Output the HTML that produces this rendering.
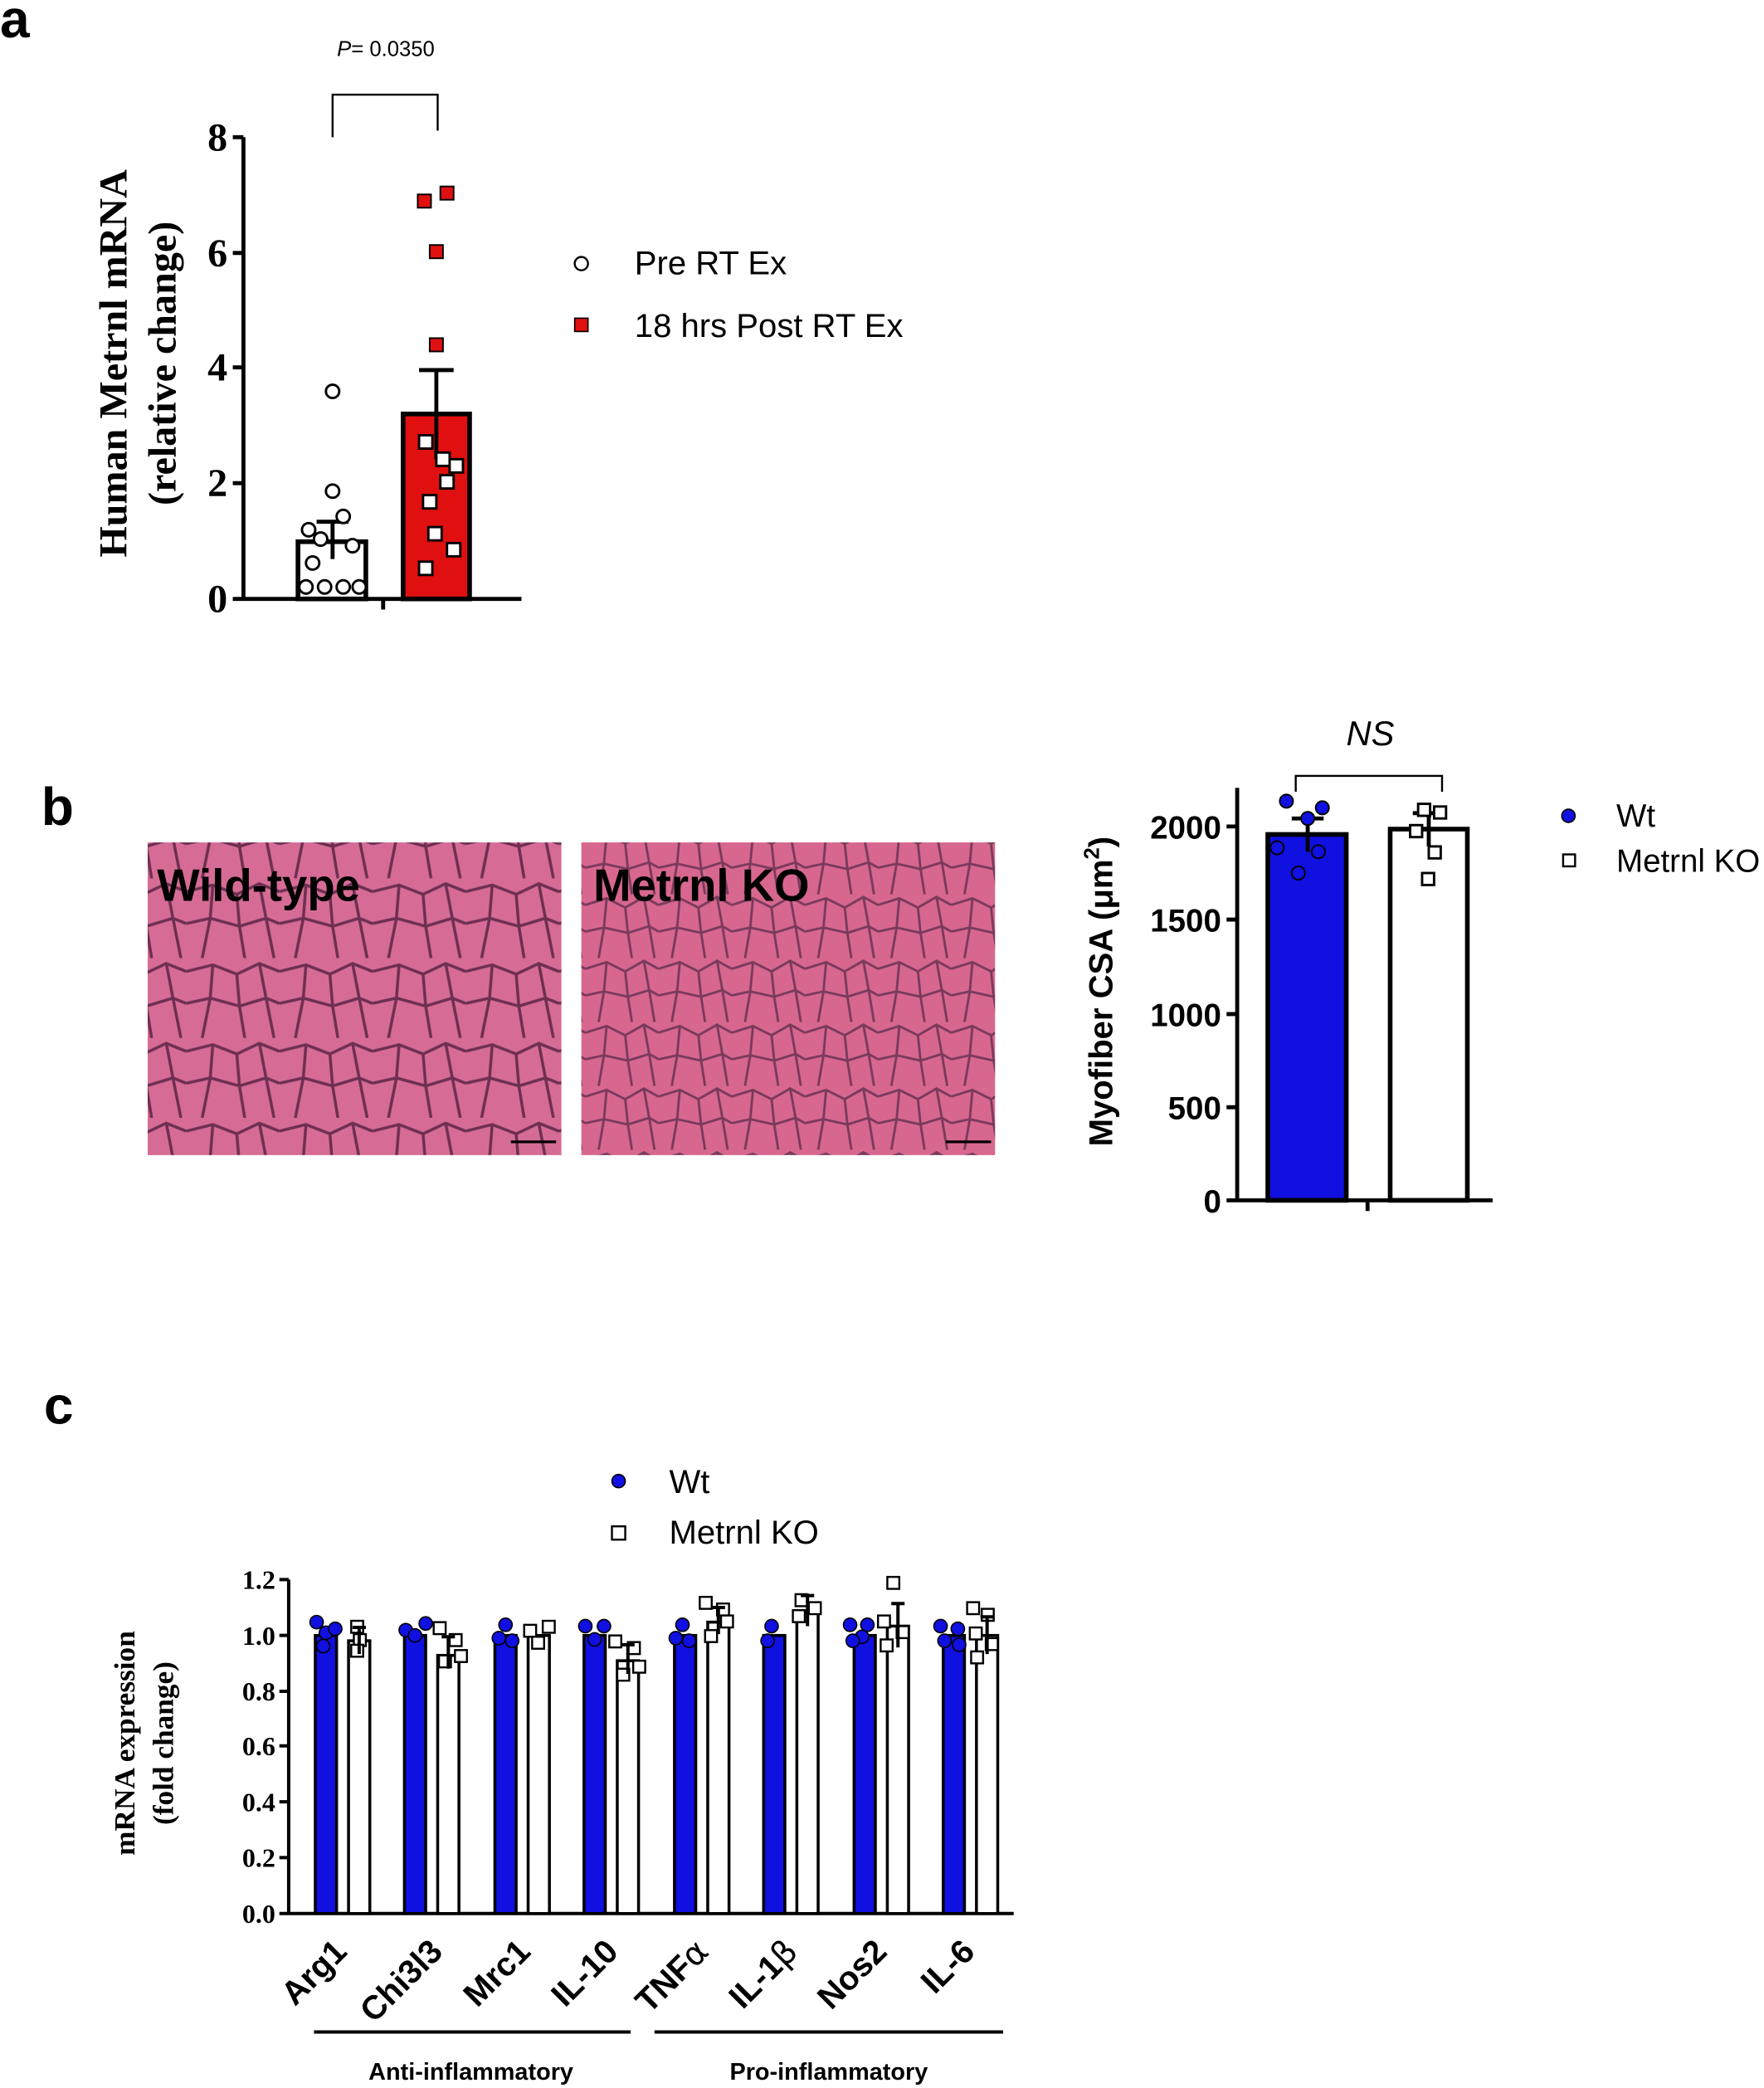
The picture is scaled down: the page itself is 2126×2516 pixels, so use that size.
<!DOCTYPE html>
<html><head><meta charset="utf-8"><style>
html,body{margin:0;padding:0;background:#fff}
svg{display:block}
.s{font-family:"Liberation Sans",sans-serif}
.r{font-family:"Liberation Serif",serif;font-weight:bold}
</style></head><body>
<svg width="2126" height="2516" viewBox="0 0 1326 1569" xmlns="http://www.w3.org/2000/svg">
<defs>
<pattern id="cells" width="70" height="60" patternUnits="userSpaceOnUse">
<rect width="70" height="60" fill="#d66c95"/>
<path d="M0 10 L20 5 L38 12 L55 4 L70 10 M20 5 L18 30 L0 34 M18 30 L40 36 L38 12 M40 36 L60 30 L55 4 M60 30 L70 34 M18 30 L12 60 M40 36 L44 60 M60 30 L66 60" stroke="#6e2f52" stroke-width="2.2" fill="none"/>
</pattern>
<pattern id="cells2" width="55" height="48" patternUnits="userSpaceOnUse">
<rect width="55" height="48" fill="#d8678f"/>
<path d="M0 8 L16 3 L30 10 L44 2 L55 8 M16 3 L14 25 L0 28 M14 25 L32 29 L30 10 M32 29 L48 24 L44 2 M48 24 L55 28 M14 25 L10 48 M32 29 L35 48 M48 24 L52 48" stroke="#7a3a5c" stroke-width="1.8" fill="none"/>
</pattern>
</defs>

<!-- Panel a -->
<text x="0" y="28" class="s" font-size="40" font-weight="bold">a</text>
<text x="290" y="42" class="s" font-size="16" text-anchor="middle"><tspan font-style="italic">P</tspan>= 0.0350</text>
<path d="M250 103 V71 H329 V98" stroke="#000" stroke-width="1.5" fill="none"/>
<g stroke="#000" stroke-width="3" fill="none">
<path d="M183 103 V450 M175 450 H392 M175 103 H183 M175 190 H183 M175 276 H183 M175 363 H183 M288 450 V458"/>
</g>
<g class="r" font-size="30" text-anchor="end">
<text x="171" y="460">0</text><text x="171" y="373">2</text><text x="171" y="286">4</text><text x="171" y="200">6</text><text x="171" y="113">8</text>
</g>
<text class="r" font-size="30" text-anchor="middle" transform="translate(95,273) rotate(-90)">Human Metrnl mRNA</text>
<text class="r" font-size="30" text-anchor="middle" transform="translate(132,273) rotate(-90)">(relative change)</text>
<rect x="224" y="407" width="51" height="43" fill="#fff" stroke="#000" stroke-width="3.5"/>
<rect x="303" y="311" width="50" height="139" fill="#e01010" stroke="#000" stroke-width="3.5"/>
<path d="M250 392 V420 M238 392 H262 M328 278 V345 M315 278 H341" stroke="#000" stroke-width="3"/>
<g fill="#fff" stroke="#000" stroke-width="1.8">
<circle cx="250" cy="294" r="5"/><circle cx="250" cy="369" r="5"/><circle cx="258" cy="388" r="5"/><circle cx="232" cy="398" r="5"/><circle cx="241" cy="405" r="5"/><circle cx="265" cy="410" r="5"/><circle cx="235" cy="423" r="5"/><circle cx="230" cy="441" r="5"/><circle cx="244" cy="441" r="5"/><circle cx="258" cy="441" r="5"/><circle cx="270" cy="441" r="5"/>
</g>
<g fill="#e01010" stroke="#000" stroke-width="1.2">
<rect x="314" y="146" width="10" height="10"/><rect x="331" y="140" width="10" height="10"/><rect x="323" y="184" width="10" height="10"/><rect x="323" y="254" width="10" height="10"/>
</g>
<g fill="#fff" stroke="#000" stroke-width="1.8">
<rect x="315" y="327" width="10" height="10"/><rect x="328" y="340" width="10" height="10"/><rect x="338" y="345" width="10" height="10"/><rect x="331" y="357" width="10" height="10"/><rect x="318" y="372" width="10" height="10"/><rect x="322" y="396" width="10" height="10"/><rect x="336" y="408" width="10" height="10"/><rect x="315" y="422" width="10" height="10"/>
</g>
<circle cx="437" cy="198" r="5" fill="#fff" stroke="#000" stroke-width="1.5"/>
<text x="477" y="206" class="s" font-size="25">Pre RT Ex</text>
<rect x="432" y="239" width="10" height="10" fill="#e01010" stroke="#000"/>
<text x="477" y="253" class="s" font-size="25">18 hrs Post RT Ex</text>

<!-- Panel b -->
<text x="31" y="620" class="s" font-size="40" font-weight="bold">b</text>
<rect x="111" y="633" width="311" height="235" fill="url(#cells)"/>
<rect x="437" y="633" width="311" height="235" fill="url(#cells2)"/>
<text x="118" y="677" class="s" font-size="34" font-weight="bold">Wild-type</text>
<text x="446" y="677" class="s" font-size="34" font-weight="bold">Metrnl KO</text>
<path d="M384 858 H418 M711 858 H745" stroke="#000" stroke-width="2"/>

<text x="1030" y="560" class="s" font-size="26" font-style="italic" text-anchor="middle">NS</text>
<path d="M974 595 V583 H1084 V595" stroke="#000" stroke-width="1.5" fill="none"/>
<g stroke="#000" stroke-width="3" fill="none">
<path d="M930 592 V902 M922 902 H1122 M922 621 H930 M922 691 H930 M922 762 H930 M922 832 H930 M1028 902 V910"/>
</g>
<g class="s" font-size="24" font-weight="bold" text-anchor="end">
<text x="918" y="911">0</text><text x="918" y="841">500</text><text x="918" y="771">1000</text><text x="918" y="700">1500</text><text x="918" y="630">2000</text>
</g>
<text class="s" font-size="25" font-weight="bold" text-anchor="middle" transform="translate(836,745) rotate(-90)">Myofiber CSA (μm<tspan dy="-10" font-size="16">2</tspan><tspan dy="10">)</tspan></text>
<rect x="953" y="627" width="59" height="275" fill="#1010e0" stroke="#000" stroke-width="3.5"/>
<rect x="1045" y="623" width="58" height="279" fill="#fff" stroke="#000" stroke-width="3.5"/>
<path d="M983 615 V640 M971 615 H995 M1074 611 V636 M1062 611 H1086" stroke="#000" stroke-width="3"/>
<g fill="#1010e0" stroke="#000" stroke-width="1.2">
<circle cx="967" cy="602" r="5"/><circle cx="994" cy="607" r="5"/><circle cx="983" cy="615" r="5"/><circle cx="960" cy="637" r="5"/><circle cx="991" cy="640" r="5"/><circle cx="976" cy="656" r="5"/>
</g>
<g fill="#fff" stroke="#000" stroke-width="1.8">
<rect x="1066" y="604" width="9" height="9"/><rect x="1078" y="606" width="9" height="9"/><rect x="1060" y="620" width="9" height="9"/><rect x="1074" y="636" width="9" height="9"/><rect x="1069" y="656" width="9" height="9"/>
</g>
<circle cx="1179" cy="613" r="5" fill="#1010e0" stroke="#000"/>
<text x="1215" y="621" class="s" font-size="24">Wt</text>
<rect x="1175" y="642" width="9" height="9" fill="#fff" stroke="#000" stroke-width="1.5"/>
<text x="1215" y="655" class="s" font-size="24">Metrnl KO</text>

<!-- Panel c -->
<text x="33" y="1070" class="s" font-size="40" font-weight="bold">c</text>
<circle cx="465" cy="1113" r="5" fill="#1010e0" stroke="#000"/>
<text x="503" y="1122" class="s" font-size="25">Wt</text>
<rect x="460" y="1147" width="10" height="10" fill="#fff" stroke="#000" stroke-width="1.5"/>
<text x="503" y="1160" class="s" font-size="25">Metrnl KO</text>

<g stroke="#000" stroke-width="2.5" fill="none">
<path d="M217 1187 V1438 M210 1438 H762"/>
<path d="M210 1187 H217 M210 1229 H217 M210 1271 H217 M210 1312 H217 M210 1354 H217 M210 1396 H217"/>
</g>
<g class="r" font-size="20" text-anchor="end">
<text x="207" y="1445">0.0</text><text x="207" y="1403">0.2</text><text x="207" y="1361">0.4</text><text x="207" y="1319">0.6</text><text x="207" y="1278">0.8</text><text x="207" y="1236">1.0</text><text x="207" y="1194">1.2</text>
</g>
<text class="r" font-size="22" text-anchor="middle" transform="translate(101,1310) rotate(-90)">mRNA expression</text>
<text class="r" font-size="22" text-anchor="middle" transform="translate(130,1310) rotate(-90)">(fold change)</text>

<g stroke="#000" stroke-width="2.2">
<rect x="237" y="1229" width="16" height="209" fill="#1010e0"/><rect x="262" y="1233" width="16" height="205" fill="#fff"/>
<rect x="304" y="1229" width="16" height="209" fill="#1010e0"/><rect x="329" y="1244" width="16" height="194" fill="#fff"/>
<rect x="372" y="1229" width="16" height="209" fill="#1010e0"/><rect x="397" y="1229" width="16" height="209" fill="#fff"/>
<rect x="439" y="1229" width="16" height="209" fill="#1010e0"/><rect x="464" y="1248" width="16" height="190" fill="#fff"/>
<rect x="507" y="1229" width="16" height="209" fill="#1010e0"/><rect x="532" y="1219" width="16" height="219" fill="#fff"/>
<rect x="574" y="1229" width="16" height="209" fill="#1010e0"/><rect x="599" y="1212" width="16" height="226" fill="#fff"/>
<rect x="642" y="1229" width="16" height="209" fill="#1010e0"/><rect x="667" y="1222" width="16" height="216" fill="#fff"/>
<rect x="709" y="1229" width="16" height="209" fill="#1010e0"/><rect x="734" y="1229" width="16" height="209" fill="#fff"/>
</g>
<g fill="#1010e0" stroke="#000" stroke-width="1">
<circle cx="238" cy="1219" r="5"/><circle cx="245" cy="1227" r="5"/><circle cx="252" cy="1224" r="5"/><circle cx="243" cy="1237" r="5"/>
<circle cx="305" cy="1225" r="5"/><circle cx="320" cy="1220" r="5"/><circle cx="312" cy="1229" r="5"/>
<circle cx="380" cy="1221" r="5"/><circle cx="375" cy="1231" r="5"/><circle cx="385" cy="1233" r="5"/>
<circle cx="440" cy="1222" r="5"/><circle cx="454" cy="1222" r="5"/><circle cx="447" cy="1232" r="5"/>
<circle cx="513" cy="1221" r="5"/><circle cx="508" cy="1231" r="5"/><circle cx="518" cy="1233" r="5"/>
<circle cx="580" cy="1222" r="5"/><circle cx="577" cy="1233" r="5"/>
<circle cx="639" cy="1221" r="5"/><circle cx="652" cy="1221" r="5"/><circle cx="648" cy="1230" r="5"/><circle cx="641" cy="1233" r="5"/>
<circle cx="707" cy="1222" r="5"/><circle cx="720" cy="1224" r="5"/><circle cx="710" cy="1233" r="5"/><circle cx="721" cy="1236" r="5"/>
</g>
<g fill="#fff" stroke="#000" stroke-width="1.5">
<rect x="264" y="1218" width="9" height="9"/><rect x="266" y="1228" width="9" height="9"/><rect x="264" y="1236" width="9" height="9"/>
<rect x="326" y="1219" width="9" height="9"/><rect x="338" y="1228" width="9" height="9"/><rect x="330" y="1244" width="9" height="9"/><rect x="342" y="1240" width="9" height="9"/>
<rect x="394" y="1221" width="9" height="9"/><rect x="408" y="1218" width="9" height="9"/><rect x="400" y="1230" width="9" height="9"/>
<rect x="458" y="1229" width="9" height="9"/><rect x="472" y="1234" width="9" height="9"/><rect x="464" y="1254" width="9" height="9"/><rect x="476" y="1248" width="9" height="9"/>
<rect x="526" y="1200" width="9" height="9"/><rect x="539" y="1205" width="9" height="9"/><rect x="542" y="1214" width="9" height="9"/><rect x="530" y="1225" width="9" height="9"/>
<rect x="598" y="1198" width="9" height="9"/><rect x="608" y="1204" width="9" height="9"/><rect x="596" y="1210" width="9" height="9"/>
<rect x="667" y="1185" width="9" height="9"/><rect x="660" y="1214" width="9" height="9"/><rect x="674" y="1222" width="9" height="9"/><rect x="662" y="1232" width="9" height="9"/>
<rect x="727" y="1204" width="9" height="9"/><rect x="738" y="1209" width="9" height="9"/><rect x="729" y="1223" width="9" height="9"/><rect x="741" y="1231" width="9" height="9"/><rect x="730" y="1241" width="9" height="9"/>
</g>
<g stroke="#000" stroke-width="2.5">
<path d="M270 1223 V1243 M265 1223 H275 M337 1230 V1254 M332 1230 H342 M472 1236 V1258 M467 1236 H477 M540 1208 V1228 M535 1208 H545 M607 1199 V1222 M602 1199 H612 M675 1205 V1238 M670 1205 H680 M742 1215 V1243 M737 1215 H747"/>
</g>

<g class="s" font-size="25" font-weight="bold" text-anchor="end">
<text transform="translate(262,1468) rotate(-45)">Arg1</text>
<text transform="translate(334,1468) rotate(-45)">Chi3l3</text>
<text transform="translate(400,1468) rotate(-45)">Mrc1</text>
<text transform="translate(466,1468) rotate(-45)">IL-10</text>
<text transform="translate(534,1468) rotate(-45)">TNF<tspan font-family="DejaVu Sans" font-weight="normal">α</tspan></text>
<text transform="translate(601,1468) rotate(-45)">IL-1<tspan font-family="DejaVu Sans" font-weight="normal">β</tspan></text>
<text transform="translate(668,1468) rotate(-45)">Nos2</text>
<text transform="translate(734,1468) rotate(-45)">IL-6</text>
</g>
<path d="M236 1527 H474 M492 1527 H754" stroke="#000" stroke-width="2.5"/>
<text x="354" y="1563" class="s" font-size="18" font-weight="bold" text-anchor="middle">Anti-inflammatory</text>
<text x="623" y="1563" class="s" font-size="18" font-weight="bold" text-anchor="middle">Pro-inflammatory</text>
</svg>
</body></html>
